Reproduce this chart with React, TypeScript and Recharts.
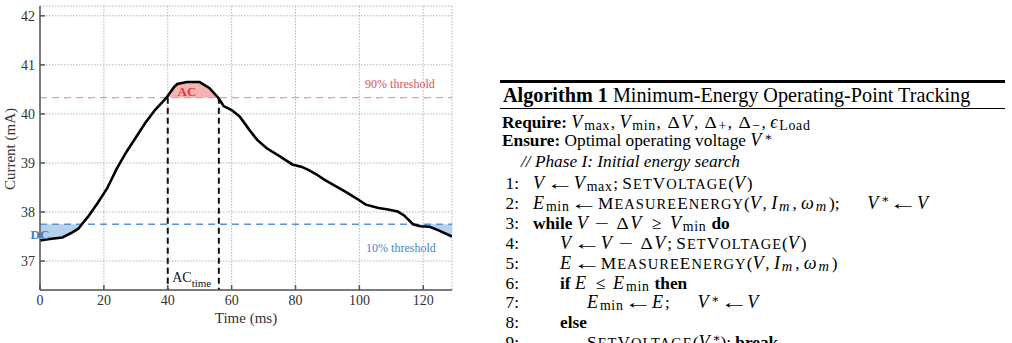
import React from "react";
import {
  ComposedChart,
  Line,
  Area,
  XAxis,
  YAxis,
  CartesianGrid,
  ReferenceLine,
  ReferenceDot,
} from "recharts";

const timeMs = [
  0, 3, 7, 10, 12, 13.1, 15, 18, 21, 24, 27, 30, 33, 36, 39.6, 42, 43, 46, 50,
  53, 55.8, 57.5, 60, 62.5, 65.5, 68, 71, 75, 79, 82, 84, 86.5, 89, 92, 96, 99,
  102, 106, 109, 112, 114, 116.8, 119, 122, 125, 129,
];
const currentMa = [
  37.42, 37.45, 37.48, 37.58, 37.66, 37.75, 37.9, 38.18, 38.48, 38.88, 39.22,
  39.52, 39.82, 40.08, 40.33, 40.55, 40.61, 40.65, 40.65, 40.53, 40.33, 40.16,
  40.08, 39.95, 39.68, 39.47, 39.3, 39.14, 38.97, 38.92, 38.86, 38.77, 38.66,
  38.55, 38.4, 38.28, 38.15, 38.08, 38.05, 38.01, 37.93, 37.75, 37.71, 37.7,
  37.62, 37.5,
];
const xTicks = [0, 20, 40, 60, 80, 100, 120];
const yTicks = [37, 38, 39, 40, 41, 42];
const xDomain: [number, number] = [0, 129];
const yDomain: [number, number] = [36.41, 42.2];
const thrHigh = 40.33; // 90% threshold
const thrLow = 37.75; // 10% threshold
const acStart = 40;
const acEnd = 56;

const data = timeMs.map((t, i) => ({ t, v: currentMa[i] }));

const serif = "'Liberation Serif', 'DejaVu Serif', serif";
const frame = "#555";

function BottomTick({ x, y, payload }: any) {
  return (
    <g>
      <line x1={x} y1={y} x2={x} y2={y - 5} stroke={frame} strokeWidth={1.5} />
      <text x={x} y={y + 15} textAnchor="middle" fontSize={14} fill="#333" fontFamily={serif}>
        {payload.value}
      </text>
    </g>
  );
}
function TopTick({ x, y }: any) {
  return <line x1={x} y1={y} x2={x} y2={y + 5} stroke={frame} strokeWidth={1.5} />;
}
function LeftTick({ x, y, payload }: any) {
  return (
    <g>
      <line x1={x} y1={y} x2={x + 5} y2={y} stroke={frame} strokeWidth={1.5} />
      <text x={x - 5} y={y + 5} textAnchor="end" fontSize={14} fill="#333" fontFamily={serif}>
        {payload.value}
      </text>
    </g>
  );
}
function RightTick({ x, y }: any) {
  return <line x1={x} y1={y} x2={x - 5} y2={y} stroke={frame} strokeWidth={1.5} />;
}

const note = (value: string, fill: string, size: number, bold = false) => (props: any) => {
  const vb = props.viewBox;
  return (
    <text
      x={vb.x}
      y={vb.y}
      dy="0.35em"
      textAnchor="middle"
      fontSize={size}
      fontWeight={bold ? "bold" : "normal"}
      fill={fill}
      fontFamily={serif}
    >
      {value}
    </text>
  );
};

function AcTimeLabel(props: any) {
  const vb = props.viewBox;
  return (
    <text x={vb.x} y={vb.y} dy="0.35em" textAnchor="middle" fontSize={14} fill="#111" fontFamily={serif}>
      <tspan>AC</tspan>
      <tspan fontSize={11} dy="5">time</tspan>
    </text>
  );
}

function CurrentChart() {
  return (
    <ComposedChart
      width={470}
      height={343}
      data={data}
      margin={{ top: 6, right: 18, bottom: 0, left: 0 }}
    >
      <CartesianGrid stroke="#b5b5b5" strokeDasharray="1.5 1.5" />
      <XAxis
        dataKey="t"
        type="number"
        domain={xDomain}
        ticks={xTicks}
        allowDataOverflow
        height={53}
        tickSize={0}
        tickMargin={0}
        tick={<BottomTick />}
        stroke={frame}
        strokeWidth={1.5}
        label={{
          content: () => (
            <text x={246} y={323} textAnchor="middle" fontSize={15} fill="#333" fontFamily={serif}>
              Time (ms)
            </text>
          ),
        }}
      />
      <XAxis
        xAxisId="top"
        orientation="top"
        dataKey="t"
        type="number"
        domain={xDomain}
        ticks={xTicks}
        allowDataOverflow
        height={0}
        tickSize={0}
        tickMargin={0}
        tick={<TopTick />}
        stroke={frame}
        strokeWidth={1.5}
      />
      <YAxis
        type="number"
        domain={yDomain}
        ticks={yTicks}
        allowDataOverflow
        width={40}
        tickSize={0}
        tickMargin={0}
        tick={<LeftTick />}
        stroke={frame}
        strokeWidth={1.5}
        label={{
          content: () => (
            <text
              x={0}
              y={0}
              transform="translate(15 149) rotate(-90)"
              textAnchor="middle"
              fontSize={15}
              fill="#333"
              fontFamily={serif}
            >
              Current (mA)
            </text>
          ),
        }}
      />
      <YAxis
        yAxisId="right"
        orientation="right"
        type="number"
        domain={yDomain}
        ticks={yTicks}
        allowDataOverflow
        width={0}
        tickSize={0}
        tickMargin={0}
        tick={<RightTick />}
        stroke={frame}
        strokeWidth={1.5}
      />

      {/* shaded regions beyond the thresholds */}
      <Area
        dataKey={(d: any) => [thrHigh, Math.max(d.v, thrHigh)]}
        stroke="none"
        fill="#f6b3b6"
        fillOpacity={1}
        isAnimationActive={false}
        activeDot={false}
      />
      <Area
        dataKey={(d: any) => [Math.min(d.v, thrLow), thrLow]}
        stroke="none"
        fill="#b6d1ea"
        fillOpacity={1}
        isAnimationActive={false}
        activeDot={false}
      />

      <ReferenceLine y={thrHigh} stroke="#ea9aa0" strokeWidth={1.2} strokeDasharray="7 5" />
      <ReferenceLine y={thrLow} stroke="#5b93cc" strokeWidth={1.6} strokeDasharray="7 5" />
      <ReferenceLine
        segment={[{ x: acStart, y: thrHigh }, { x: acStart, y: yDomain[0] }]}
        stroke="#111"
        strokeWidth={2}
        strokeDasharray="6 4"
      />
      <ReferenceLine
        segment={[{ x: acEnd, y: thrHigh }, { x: acEnd, y: yDomain[0] }]}
        stroke="#111"
        strokeWidth={2}
        strokeDasharray="6 4"
      />

      <Line
        dataKey="v"
        stroke="#000"
        strokeWidth={2.6}
        dot={false}
        type="linear"
        isAnimationActive={false}
      />

      <ReferenceDot x={112.7} y={40.62} r={0} stroke="none" label={{ content: note("90% threshold", "#e0525a", 12) }} />
      <ReferenceDot x={113} y={37.27} r={0} stroke="none" label={{ content: note("10% threshold", "#4a86c5", 12) }} />
      <ReferenceDot x={46} y={40.46} r={0} stroke="none" label={{ content: note("AC", "#e3343c", 13, true) }} />
      <ReferenceDot x={0} y={37.55} r={0} stroke="none" label={{ content: note("DC", "#3f7fc0", 13, true) }} />
      <ReferenceDot x={47.5} y={36.67} r={0} stroke="none" label={{ content: AcTimeLabel }} />
    </ComposedChart>
  );
}

// ---- algorithm listing, set roughly the way LaTeX spaces math ----
const It = ({ children }: any) => (
  <i style={{ fontSize: "1.05em", marginRight: "0.1em", lineHeight: 0 }}>{children}</i>
);
const Sub = ({ children }: any) => (
  <span
    style={{
      fontSize: "0.8em",
      position: "relative",
      top: "0.18em",
      lineHeight: 0,
      fontStyle: "normal",
      letterSpacing: "0.05em",
      marginRight: "0.05em",
    }}
  >
    {children}
  </span>
);
const Star = () => (
  <span style={{ fontSize: "0.7em", position: "relative", top: "-0.45em", lineHeight: 0, marginLeft: "0.06em" }}>∗</span>
);
// small caps: capitals full size, the rest as smaller capitals
const Sc = ({ text }: { text: string }) => (
  <span style={{ letterSpacing: "0.06em" }}>
    {text.match(/[A-Z]+|[^A-Z]+/g)!.map((run, i) =>
      /[A-Z]/.test(run[0]) ? (
        <span key={i}>{run}</span>
      ) : (
        <span key={i} style={{ fontSize: "0.84em" }}>{run.toUpperCase()}</span>
      )
    )}
  </span>
);
const Glyph = ({ c, w, sx = 1, m }: { c: string; w: number; sx?: number; m: number }) => (
  <span style={{ display: "inline-block", width: `${w}em`, margin: `0 ${m}em`, textAlign: "center" }}>
    <span style={{ display: "inline-block", transform: `scaleX(${sx})` }}>{c}</span>
  </span>
);
const Arrow = () => <Glyph c="←" w={1.05} sx={1.65} m={0.28} />;
const Minus = () => <Glyph c="−" w={0.95} sx={1.45} m={0.24} />;
const Geq = () => <Glyph c="≥" w={0.95} m={0.3} />;
const Leq = () => <Glyph c="≤" w={0.9} m={0.28} />;
const Delta = () => <Glyph c="Δ" w={0.92} sx={1.1} m={0} />;
const Quad = () => <span style={{ display: "inline-block", width: "1.35em" }} />;

const numLeft = 498;
const numRight = 519;
const bodyLeft = 533;
const indentStep = 27;

const steps: Array<{ n: number; lvl: number; top: number; body: React.ReactNode }> = [
  { n: 1, lvl: 0, top: 183.5, body: (<><It>V</It><Arrow /><It>V</It><Sub>max</Sub>; <Sc text="SetVoltage" />(<It>V</It>)</>) },
  { n: 2, lvl: 0, top: 203.5, body: (<><It>E</It><Sub>min</Sub><Arrow /><Sc text="MeasureEnergy" />(<It>V</It>, <It>I</It><Sub><It>m</It></Sub>, <It>ω</It><Sub><It>m</It></Sub>);<Quad /> <It>V</It><Star /><Arrow /><It>V</It></>) },
  { n: 3, lvl: 0, top: 223.5, body: (<><b>while</b> <It>V</It><Minus /><Delta /><It>V</It><Geq /><It>V</It><Sub>min</Sub> <b>do</b></>) },
  { n: 4, lvl: 1, top: 243.5, body: (<><It>V</It><Arrow /><It>V</It><Minus /><Delta /><It>V</It>; <Sc text="SetVoltage" />(<It>V</It>)</>) },
  { n: 5, lvl: 1, top: 263.5, body: (<><It>E</It><Arrow /><Sc text="MeasureEnergy" />(<It>V</It>, <It>I</It><Sub><It>m</It></Sub>, <It>ω</It><Sub><It>m</It></Sub>)</>) },
  { n: 6, lvl: 1, top: 283.5, body: (<><b>if</b> <It>E</It><Leq /><It>E</It><Sub>min</Sub> <b>then</b></>) },
  { n: 7, lvl: 2, top: 303, body: (<><It>E</It><Sub>min</Sub><Arrow /><It>E</It>;<Quad /> <It>V</It><Star /><Arrow /><It>V</It></>) },
  { n: 8, lvl: 1, top: 322.5, body: (<b>else</b>) },
  { n: 9, lvl: 2, top: 342.5, body: (<><Sc text="SetVoltage" />(<It>V</It><Star />); <b>break</b></>) },
];

const bodySize = 17.3;
const lineH = 20;

function Row({ top, left, children, size = bodySize }: any) {
  return (
    <div
      style={{
        position: "absolute",
        top: top - lineH / 2,
        left,
        height: lineH,
        lineHeight: `${lineH}px`,
        fontSize: size,
        whiteSpace: "nowrap",
      }}
    >
      {children}
    </div>
  );
}

function Algorithm() {
  return (
    <div style={{ position: "absolute", left: 0, top: 0, width: 1012, height: 343, fontFamily: serif, color: "#000" }}>
      <div style={{ position: "absolute", left: 500, top: 80, width: 505, height: 2.5, background: "#000" }} />
      <Row top={95} left={503} size={20.2}>
        <b>Algorithm 1</b> Minimum-Energy Operating-Point Tracking
      </Row>
      <div style={{ position: "absolute", left: 500, top: 108, width: 505, height: 1.4, background: "#000" }} />
      <Row top={123} left={502}>
        <b>Require:</b> <It>V</It><Sub>max</Sub>, <It>V</It><Sub>min</Sub>, <Delta /><It>V</It>, <Delta /><Sub>+</Sub>, <Delta /><Sub>−</Sub>, <It>ϵ</It><Sub>Load</Sub>
      </Row>
      <Row top={141} left={502}>
        <b>Ensure:</b> Optimal operating voltage <It>V</It><Star />
      </Row>
      <Row top={161.5} left={bodyLeft - 12}>
        <i>// Phase I: Initial energy search</i>
      </Row>
      {steps.map((s) => (
        <React.Fragment key={s.n}>
          <div
            style={{
              position: "absolute",
              top: s.top - lineH / 2,
              left: numLeft,
              width: numRight - numLeft,
              textAlign: "right",
              lineHeight: `${lineH}px`,
              fontSize: bodySize,
            }}
          >
            {s.n}:
          </div>
          <Row top={s.top} left={bodyLeft + s.lvl * indentStep}>
            {s.body}
          </Row>
        </React.Fragment>
      ))}
    </div>
  );
}

export default function App() {
  return (
    <div style={{ position: "fixed", left: 0, top: 0, width: 1012, height: 343, overflow: "hidden", background: "#fff" }}>
      <div style={{ position: "absolute", left: 0, top: 0 }}>
        <CurrentChart />
      </div>
      <Algorithm />
    </div>
  );
}
